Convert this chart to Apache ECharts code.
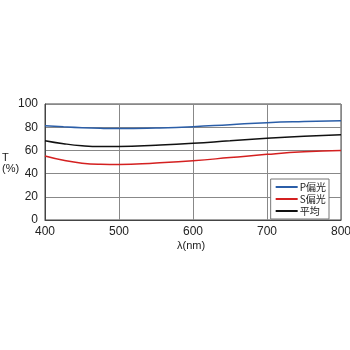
<!DOCTYPE html>
<html><head><meta charset="utf-8">
<script src="https://cdn.jsdelivr.net/npm/echarts@6/dist/echarts.min.js"></script>
<style>html,body{margin:0;padding:0;background:#fff}#c{width:350px;height:350px}</style>
</head><body><div id="c"></div>
<script>
const wavelengths = [400,425,450,475,500,550,600,650,700,750,800];
const pPol = [81.3,80.3,79.5,79.0,78.8,79.3,80.4,82.2,83.9,84.9,85.6];
const sPol = [55.2,51.5,49.0,48.0,47.8,49.2,51.1,53.8,56.6,58.8,60.0];
const avg  = [68.4,65.8,64.0,63.3,63.4,64.5,66.1,68.3,70.4,72.2,73.5];
const seriesNames = ['P偏光','S偏光','平均'];

const pair = arr => wavelengths.map((w,i)=>[w,arr[i]]);
const chart = echarts.init(document.getElementById('c'));
const font = 'Liberation Sans, Arial, sans-serif';
chart.setOption({
  animation:false,
  grid:{left:45,right:9,top:104,bottom:130,show:true,borderColor:'#444',borderWidth:1,outerBoundsMode:'none',containLabel:false},
  xAxis:{type:'value',min:400,max:800,interval:100,
    axisLine:{show:true,lineStyle:{color:'#444'}},axisTick:{show:false},
    axisLabel:{color:'#222',fontSize:12,fontFamily:font,margin:6},
    splitLine:{show:true,lineStyle:{color:'#888',width:1}}},
  yAxis:{type:'value',min:0,max:100,interval:20,
    axisLine:{show:true,lineStyle:{color:'#444'}},axisTick:{show:false},
    axisLabel:{color:'#222',fontSize:12,fontFamily:font,margin:7},
    splitLine:{show:true,lineStyle:{color:'#888',width:1}}},
  legend:{orient:'vertical',right:21,top:179,itemWidth:22,itemHeight:2,itemGap:2,
    icon:'rect',backgroundColor:'#fff',borderColor:'#777',borderWidth:1,borderRadius:0,
    padding:[3,3,3,5],textStyle:{fontSize:10,color:'#222',fontFamily:'Noto Sans CJK JP',padding:[0,0,0,-3]},
    data:seriesNames},
  graphic:[
    {type:'text',left:2,top:152,style:{text:'T\n(%)',fill:'#222',font:'11px '+font,align:'center',lineHeight:11}},
    {type:'text',left:177,top:240,style:{text:'λ(nm)',fill:'#222',font:'11px '+font}}
  ],
  series:[
    {name:seriesNames[0],type:'line',smooth:true,showSymbol:false,data:pair(pPol),lineStyle:{color:'#2b5ea8',width:1.5},itemStyle:{color:'#2b5ea8'}},
    {name:seriesNames[1],type:'line',smooth:true,showSymbol:false,data:pair(sPol),lineStyle:{color:'#d42020',width:1.5},itemStyle:{color:'#d42020'}},
    {name:seriesNames[2],type:'line',smooth:true,showSymbol:false,data:pair(avg),lineStyle:{color:'#111',width:1.5},itemStyle:{color:'#111'}}
  ]
});
</script></body></html>
